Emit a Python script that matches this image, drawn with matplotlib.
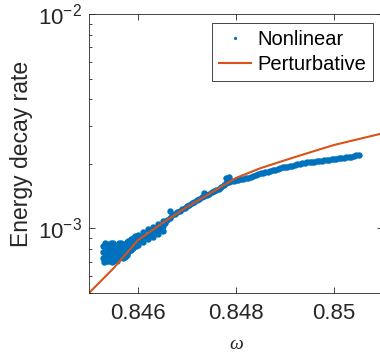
import matplotlib
matplotlib.use("Agg")
import matplotlib.pyplot as plt
from matplotlib.ticker import FixedLocator, FixedFormatter, LogLocator, NullFormatter

plt.rcParams['font.family'] = ['Liberation Sans', 'DejaVu Sans']
plt.rcParams['mathtext.fontset'] = 'custom'
plt.rcParams['mathtext.rm'] = 'Liberation Sans'
plt.rcParams['mathtext.it'] = 'Liberation Serif:italic'

# perturbative prediction
pert_omega = [0.8450, 0.8455, 0.8460, 0.8465, 0.8470, 0.8475, 0.8480,
              0.8485, 0.8490, 0.8495, 0.8500, 0.8505, 0.8510]
pert_rate = [5.0e-4, 6.52e-4, 8.82e-4, 1.06e-3, 1.26e-3, 1.47e-3, 1.72e-3,
             1.91e-3, 2.08e-3, 2.26e-3, 2.45e-3, 2.61e-3, 2.78e-3]

# nonlinear simulation: noisy cloud at low omega
cloud_omega = [0.84529, 0.84529, 0.84529, 0.84531,
               0.84537, 0.84537, 0.84539, 0.84537,
               0.84545, 0.84545, 0.84547, 0.84545, 0.84547,
               0.84553, 0.84553, 0.84555, 0.84553,
               0.84562, 0.84562, 0.84564, 0.84562,
               0.84570, 0.84570, 0.84572, 0.84570,
               0.84578, 0.84578, 0.84578,
               0.84586, 0.84586, 0.84594, 0.84596,
               0.84533, 0.84533, 0.84533, 0.84541, 0.84541, 0.84541,
               0.84549, 0.84549, 0.84549, 0.84558, 0.84558, 0.84558,
               0.84566, 0.84566, 0.84566, 0.84574, 0.84574, 0.84574,
               0.84533, 0.84549, 0.84566, 0.84541, 0.84558]
cloud_rate = [8.27e-4, 7.75e-4, 7.27e-4, 6.96e-4,
              8.44e-4, 8.00e-4, 7.50e-4, 7.04e-4,
              8.53e-4, 8.09e-4, 7.67e-4, 7.27e-4, 6.96e-4,
              8.35e-4, 7.92e-4, 7.50e-4, 7.11e-4,
              8.53e-4, 8.09e-4, 7.67e-4, 7.27e-4,
              8.44e-4, 8.00e-4, 7.59e-4, 7.27e-4,
              8.63e-4, 7.92e-4, 7.50e-4,
              8.91e-4, 7.92e-4, 9.20e-4, 8.27e-4,
              8.18e-4, 7.75e-4, 7.34e-4, 8.18e-4, 7.75e-4, 7.34e-4,
              8.18e-4, 7.75e-4, 7.34e-4, 8.18e-4, 7.75e-4, 7.34e-4,
              8.18e-4, 7.75e-4, 7.34e-4, 8.18e-4, 7.75e-4, 7.34e-4,
              8.53e-4, 8.53e-4, 8.53e-4, 7.04e-4, 7.04e-4]

# nonlinear simulation: main band
band_omega = [0.8458, 0.84585, 0.8459, 0.84595, 0.8460, 0.84605, 0.8461, 0.84615,
              0.8462, 0.84625, 0.8463, 0.84635, 0.8464, 0.84645, 0.8465, 0.84655,
              0.8466, 0.84665, 0.8467, 0.84675, 0.8468, 0.84685, 0.8469, 0.84695,
              0.8470, 0.84705, 0.8471, 0.84715, 0.8472, 0.84725, 0.8473, 0.84735,
              0.8474, 0.84745, 0.8475, 0.84755, 0.8476, 0.84765, 0.8477, 0.84775,
              0.8478, 0.84785, 0.8479, 0.84795, 0.8480, 0.84805, 0.8481, 0.84815,
              0.8482, 0.84825, 0.8483, 0.84835, 0.8484, 0.84845, 0.8485, 0.84855,
              0.8486, 0.84865, 0.8487, 0.84875, 0.8488, 0.84885, 0.8489, 0.84895,
              0.8490, 0.84905, 0.8491, 0.84915, 0.8492, 0.84925, 0.8493, 0.84935,
              0.8494, 0.84945, 0.8495, 0.84955, 0.8496, 0.84965, 0.8497, 0.84975,
              0.8498, 0.84985, 0.8499, 0.84995, 0.8500, 0.85005, 0.8501, 0.85015,
              0.8502, 0.85025, 0.8503, 0.85035, 0.8504, 0.85045, 0.8505]
band_rate = [8.18e-4, 8.36e-4, 8.53e-4, 8.68e-4, 8.82e-4, 8.96e-4, 9.10e-4, 9.20e-4,
             9.30e-4, 9.46e-4, 9.61e-4, 9.77e-4, 9.92e-4, 1.009e-3, 1.025e-3, 1.059e-3,
             1.093e-3, 1.123e-3, 1.153e-3, 1.172e-3, 1.192e-3, 1.211e-3, 1.231e-3, 1.251e-3,
             1.271e-3, 1.292e-3, 1.313e-3, 1.335e-3, 1.356e-3, 1.378e-3, 1.400e-3, 1.415e-3,
             1.431e-3, 1.454e-3, 1.478e-3, 1.494e-3, 1.510e-3, 1.535e-3, 1.559e-3, 1.594e-3,
             1.628e-3, 1.646e-3, 1.663e-3, 1.673e-3, 1.681e-3, 1.691e-3, 1.700e-3, 1.709e-3,
             1.718e-3, 1.727e-3, 1.737e-3, 1.756e-3, 1.775e-3, 1.794e-3, 1.813e-3, 1.823e-3,
             1.833e-3, 1.843e-3, 1.853e-3, 1.863e-3, 1.873e-3, 1.893e-3, 1.913e-3, 1.924e-3,
             1.934e-3, 1.944e-3, 1.955e-3, 1.965e-3, 1.976e-3, 1.991e-3, 2.008e-3, 2.019e-3,
             2.030e-3, 2.034e-3, 2.040e-3, 2.045e-3, 2.051e-3, 2.056e-3, 2.062e-3, 2.074e-3,
             2.085e-3, 2.090e-3, 2.096e-3, 2.101e-3, 2.107e-3, 2.119e-3, 2.130e-3, 2.135e-3,
             2.141e-3, 2.147e-3, 2.153e-3, 2.165e-3, 2.177e-3, 2.189e-3, 2.200e-3]

# wider spread / wiggles along the band
edge_omega = [0.8458, 0.8459, 0.8460, 0.8461, 0.8462, 0.8463, 0.8464, 0.8465,
              0.8458, 0.8459, 0.8460, 0.8461, 0.8462, 0.8463, 0.8464, 0.8465,
              0.84666, 0.84734, 0.84779, 0.84785]
edge_rate = [8.72e-4, 9.01e-4, 9.30e-4, 9.61e-4, 9.92e-4, 1.014e-3, 1.047e-3, 1.081e-3,
             7.75e-4, 8.09e-4, 8.35e-4, 8.63e-4, 8.91e-4, 9.10e-4, 9.40e-4, 9.71e-4,
             1.205e-3, 1.462e-3, 1.718e-3, 1.737e-3]

nl_omega = cloud_omega + band_omega + edge_omega
nl_rate = cloud_rate + band_rate + edge_rate

xtick_vals = [0.846, 0.848, 0.850]
xtick_labels = ['0.846', '0.848', '0.85']

blue = '#0072BD'
orange = '#D95319'
axcol = '#262626'

fig = plt.figure(figsize=(3.8, 3.56), dpi=100)
ax = fig.add_axes([89 / 380, 63 / 356, 294 / 380, 279 / 356])

ax.plot(nl_omega, nl_rate, 'o', color=blue, ms=4.6, mew=0, label='Nonlinear')
ax.plot(pert_omega, pert_rate, '-', color=orange, lw=1.5, label='Perturbative')

ax.set_yscale('log')
ax.set_xlim(0.845, 0.851)
ax.set_ylim(5e-4, 1e-2)

ax.xaxis.set_major_locator(FixedLocator(xtick_vals))
ax.xaxis.set_major_formatter(FixedFormatter(xtick_labels))
ax.yaxis.set_major_locator(LogLocator(base=10, numticks=10))
ax.yaxis.set_minor_locator(LogLocator(base=10, subs=range(2, 10), numticks=20))
ax.yaxis.set_minor_formatter(NullFormatter())

for s in ax.spines.values():
    s.set_color(axcol)
    s.set_linewidth(0.6)
ax.tick_params(which='both', direction='in', top=True, right=True,
               colors=axcol, labelsize=16, width=0.6)
ax.tick_params(axis='x', which='major', length=4, pad=7)
ax.tick_params(axis='y', which='major', length=4, pad=5)
ax.tick_params(which='minor', length=2.5)

ax.set_ylabel('Energy decay rate', fontsize=16.5, color=axcol, labelpad=4)
ax.set_xlabel(r'$\omega$', fontsize=14, color=axcol, labelpad=9)

leg = ax.legend(loc='upper right', bbox_to_anchor=(373 / 380, 1 - 23 / 356),
                bbox_transform=fig.transFigure, borderaxespad=0,
                fontsize=14.5, fancybox=False, framealpha=1, markerscale=0.5,
                handlelength=1.6, handletextpad=0.3, borderpad=0.35,
                labelspacing=0.3)
leg.get_frame().set_edgecolor(axcol)
leg.get_frame().set_linewidth(0.6)

fig.savefig('out.png', dpi=100)
